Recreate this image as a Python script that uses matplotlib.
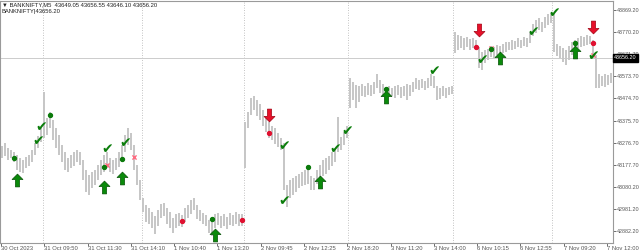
import numpy as np
import matplotlib
matplotlib.use('Agg')
import matplotlib.pyplot as plt
from matplotlib.path import Path
from matplotlib.transforms import blended_transform_factory

# bar highs / lows (BANKNIFTY M5)
highs = [43262, 43275, 43253, 43244, 43235, 43222, 43208, 43199, 43213, 43222, 43244, 43275, 43307, 43342,
         43503, 43387, 43414, 43378, 43342, 43311, 43266, 43235, 43208, 43222, 43235, 43244, 43235, 43199,
         43155, 43132, 43146, 43155, 43177, 43199, 43222, 43235, 43208, 43199, 43208, 43235, 43266, 43311,
         43342, 43320, 43266, 43177, 43110,
         43030, 42998, 42985, 42967, 42949, 42976, 43003, 43007, 42985, 42967, 42940, 42958, 42963, 42954,
         42985, 42998, 43021, 43030, 42998, 42976, 42963, 42954, 42931, 42922, 42958, 42963, 42949, 42958,
         42945, 42963, 42954, 42967, 42958, 42958,
         43369, 43414, 43476, 43485, 43467, 43449, 43423, 43396, 43369, 43351, 43342, 43320, 43298, 43275,
         43088, 43110, 43119, 43128, 43137, 43146, 43155, 43164, 43128, 43119, 43155, 43177, 43199, 43208,
         43217, 43235, 43253, 43391, 43302, 43324, 43351,
         43566, 43548, 43534, 43530, 43539, 43530, 43543, 43534, 43548, 43583, 43557, 43539, 43525, 43530,
         43521, 43530, 43534, 43525, 43530, 43539, 43534, 43548, 43566, 43557, 43561, 43552, 43566, 43583,
         43574, 43530, 43521, 43530, 43521, 43525, 43530,
         43771, 43758, 43753, 43744, 43749, 43740, 43744, 43735, 43704, 43682, 43691, 43695, 43708, 43704,
         43713, 43708, 43717, 43726, 43726, 43735, 43731, 43744, 43735, 43749, 43744, 43771, 43807, 43825,
         43833, 43816, 43838, 43851, 43856,
         43851, 43717, 43708, 43700, 43691, 43708, 43726, 43735, 43744, 43753, 43749, 43758, 43753, 43735,
         43668, 43583, 43574, 43583, 43579, 43588]
lows = [43208, 43217, 43199, 43208, 43190, 43155, 43146, 43141, 43164, 43173, 43190, 43222, 43253, 43280,
        43298, 43311, 43342, 43289, 43253, 43222, 43190, 43155, 43146, 43164, 43173, 43190, 43177, 43110,
        43056, 43043, 43074, 43088, 43110, 43132, 43146, 43164, 43146, 43137, 43155, 43168, 43190, 43235,
        43266, 43244, 43155, 43088, 43021,
        42967, 42922, 42913, 42896, 42869, 42905, 42940, 42949, 42913, 42896, 42873, 42896, 42905, 42900,
        42922, 42940, 42958, 42976, 42936, 42927, 42913, 42905, 42873, 42860, 42896, 42909, 42896, 42905,
        42891, 42909, 42905, 42913, 42905, 42905,
        43164, 43342, 43400, 43423, 43396, 43378, 43351, 43324, 43298, 43289, 43271, 43257, 43244, 43065,
        42989, 43030, 43043, 43056, 43074, 43083, 43088, 43092, 43065, 43065, 43092, 43110, 43128, 43137,
        43155, 43173, 43190, 43235, 43244, 43266, 43298,
        43432, 43467, 43432, 43458, 43485, 43481, 43490, 43485, 43494, 43521, 43499, 43481, 43476, 43481,
        43485, 43476, 43490, 43476, 43485, 43467, 43485, 43503, 43516, 43512, 43521, 43512, 43521, 43530,
        43521, 43467, 43472, 43485, 43476, 43490, 43494,
        43677, 43691, 43700, 43691, 43704, 43691, 43700, 43691, 43610, 43601, 43633, 43646, 43659, 43655,
        43668, 43664, 43677, 43682, 43691, 43691, 43695, 43704, 43700, 43708, 43704, 43722, 43753, 43767,
        43780, 43771, 43789, 43802, 43811,
        43682, 43664, 43655, 43637, 43624, 43646, 43668, 43691, 43700, 43704, 43708, 43713, 43717, 43655,
        43521, 43521, 43530, 43525, 43534, 43543]

# signals: (bar index, price)
green_dots = [(4, 43208), (16, 43400), (34, 43168), (40, 43204), (70, 42936),
              (102, 43168), (128, 43516), (163, 43695), (191, 43722)]
red_dots = [(60, 42927), (80, 42931), (89, 43320), (158, 43704), (197, 43722)]
pink_x = [(35, 43177), (44, 43213), (163, 43699), (197, 43668)]
up_arrows = [(5, 43110), (34, 43079), (40, 43119), (71, 42866), (106, 43101),
             (128, 43481), (166, 43655), (191, 43682)]
down_arrows = [(89, 43400), (159, 43780), (197, 43794)]
checks = [(12, 43284), (13, 43347), (35, 43248), (41, 43275), (94, 43262), (94, 43016),
          (111, 43248), (115, 43329), (144, 43597), (160, 43646), (177, 43771), (184, 43856),
          (197, 43664)]

day_breaks = [13.5, 46.5, 80.5, 115.5, 150.5, 183.5]
time_labels = ['30 Oct 2023', '31 Oct 09:50', '31 Oct 11:30', '31 Oct 14:10', '1 Nov 10:40',
               '1 Nov 13:20', '2 Nov 09:45', '2 Nov 12:25', '2 Nov 18:20', '3 Nov 11:20',
               '3 Nov 14:00', '6 Nov 10:15', '6 Nov 12:55', '7 Nov 09:20', '7 Nov 12:00']
price_ticks = [43869.20, 43770.20, 43671.70, 43573.70, 43474.70, 43375.70, 43276.70,
               43177.70, 43080.20, 42981.20, 42882.20]
last_price = 43656.20
header = '\u25bc BANKNIFTY,M5  43649.05 43656.55 43646.10 43656.20'
header2 = 'BANKNIFTY|43656.20'

plt.rcParams['font.family'] = ['Liberation Sans', 'DejaVu Sans']
fig = plt.figure(figsize=(6.4, 2.52), dpi=100)
ax = fig.add_axes([0.0, 9 / 252, 613 / 640, 242 / 252])

idx = np.arange(len(highs))
ax.vlines(idx, lows, highs, color='#c6c6c6', lw=1.4, zorder=2)

for b in day_breaks:
    ax.axvline(b, color='#b0b0b0', lw=0.6, ls=(0, (1, 2)), zorder=1)
ax.axhline(last_price, color='#cccccc', lw=0.7, zorder=1)

up = Path([(0, 1), (0.85, 0.15), (0.32, 0.15), (0.32, -1), (-0.32, -1), (-0.32, 0.15), (-0.85, 0.15), (0, 1)],
          [Path.MOVETO] + [Path.LINETO] * 6 + [Path.CLOSEPOLY])
down = Path([(x, -y) for x, y in up.vertices], up.codes)

ux, uy = zip(*up_arrows)
ax.scatter(ux, uy, marker=up, s=85, color='#0a8a0a', edgecolors='#045004', linewidths=0.5, zorder=5)
dx, dy = zip(*down_arrows)
ax.scatter(dx, dy, marker=down, s=85, color='#e8102a', edgecolors='#a00010', linewidths=0.5, zorder=5)

px, py = zip(*pink_x)
ax.scatter(px, py, marker='x', s=9, color='#ff6a80', linewidths=1.0, zorder=4)
gx, gy = zip(*green_dots)
ax.scatter(gx, gy, marker='o', s=8, color='#0b7a0b', zorder=5)
rx, ry = zip(*red_dots)
ax.scatter(rx, ry, marker='o', s=8, color='#e01030', zorder=5)

for cx, cy in checks:
    ax.text(cx, cy, '\u2714', color='#0b7d0b', fontsize=10, ha='center', va='center', zorder=6,
            family='DejaVu Sans')

ax.set_xlim(-0.67, 203.67)
ax.set_ylim(42828.7, 43909.4)

ax.yaxis.tick_right()
ax.set_yticks(price_ticks)
ax.set_yticklabels(['%.2f' % v for v in price_ticks])
ax.tick_params(axis='y', labelsize=3.9, colors='#555555', length=2, pad=1, width=0.6)
ax.set_xticks(np.arange(len(time_labels)) * 14.43 - 0.33)
ax.set_xticklabels(time_labels, ha='left')
ax.tick_params(axis='x', labelsize=4.2, colors='#555555', length=2, pad=0.5, width=0.6)
for s in ax.spines.values():
    s.set_color('#9a9a9a')
    s.set_linewidth(0.8)

tr = blended_transform_factory(ax.transAxes, ax.transData)
ax.text(1.002, last_price, '43656.20', transform=tr, ha='left', va='center', fontsize=3.9,
        color='white', zorder=10, clip_on=False,
        bbox=dict(boxstyle='square,pad=0.3', fc='black', ec='black'))

fig.text(2 / 640, 1 - 5 / 252, header, fontsize=4.2, va='center', ha='left', color='#202020')
fig.text(2 / 640, 1 - 12 / 252, header2, fontsize=4.2, va='center', ha='left', color='#202020')

fig.savefig('out.png', dpi=100)
